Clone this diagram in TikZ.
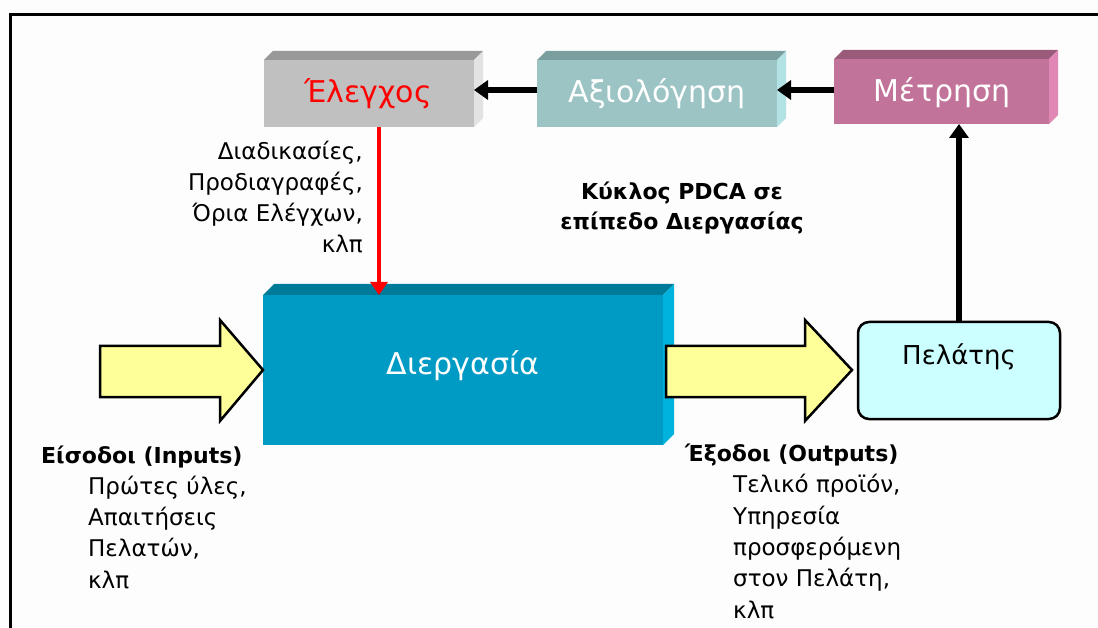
\documentclass[tikz,border=0pt]{standalone}
\usepackage{fontspec}
\setmainfont{DejaVu Sans}
\usetikzlibrary{arrows.meta}

\definecolor{elegFront}{HTML}{C0C0C0}
\definecolor{elegTop}{HTML}{999999}
\definecolor{elegSide}{HTML}{E3E3E3}
\definecolor{axioFront}{HTML}{9CC4C4}
\definecolor{axioTop}{HTML}{7B9E9E}
\definecolor{axioSide}{HTML}{B2E2E4}
\definecolor{metrFront}{HTML}{C27399}
\definecolor{metrTop}{HTML}{9A5B7B}
\definecolor{metrSide}{HTML}{E087B6}
\definecolor{dierFront}{HTML}{009BC4}
\definecolor{dierTop}{HTML}{007A99}
\definecolor{dierSide}{HTML}{00B2DE}
\definecolor{flowYellow}{HTML}{FFFF99}
\definecolor{custCyan}{HTML}{CCFFFF}
\definecolor{paper}{HTML}{FDFDFD}

% top and right faces of an extruded box
\newcommand\extrude[4]{%
  \fill[#3] (#1.north west) -- ([shift={(#2,-#2)}]#1.north west)
    -- ([shift={(#2,-#2)}]#1.north east) -- (#1.north east) -- cycle;
  \fill[#4] (#1.north east) -- ([shift={(#2,-#2)}]#1.north east)
    -- ([shift={(#2,-#2)}]#1.south east) -- (#1.south east) -- cycle;
}

\begin{document}
\begin{tikzpicture}[x=1pt,y=-1pt,
  face/.style={rectangle,inner sep=0pt,outer sep=0pt,draw=none},
  boxlabel/.style={anchor=base,inner sep=0pt,font=\fontsize{30}{36}\selectfont,text=white},
  bodytext/.style={inner sep=0pt,font=\fontsize{23}{31.3}\selectfont},
  headtext/.style={inner sep=0pt,font=\fontsize{22}{30}\selectfont\bfseries},
  blackflow/.style={line width=6pt,-{Triangle[width=19pt,length=14pt]}},
  redflow/.style={line width=4pt,red,-{Triangle[width=17pt,length=13pt]}},
  yarrow/.style={draw=black,line width=2.5pt,fill=flowYellow,line join=miter},
]
\useasboundingbox (0,0) rectangle (1098,628);
\fill[paper] (0,0) rectangle (1098,628);

% frame
\draw[line width=2.7pt] (1098,14.5) -- (10.7,14.5) -- (10.7,628);

% top row of extruded boxes
\node[face,fill=elegFront,minimum width=210pt,minimum height=67pt] (eleg) at (369,93.5) {};
\extrude{eleg}{9}{elegTop}{elegSide}
\node[face,fill=axioFront,minimum width=240pt,minimum height=67pt] (axio) at (657,93.5) {};
\extrude{axio}{9}{axioTop}{axioSide}
\node[face,fill=metrFront,minimum width=215pt,minimum height=65pt] (metr) at (941.5,91.5) {};
\extrude{metr}{9}{metrTop}{metrSide}

\node[boxlabel,text=red] (elegT) at (368,103) {Έλεγχος};
\node[boxlabel] (axioT) at (657,103) {Αξιολόγηση};
\node[boxlabel] (metrT) at (942,102) {Μέτρηση};

% process box
\node[face,fill=dierFront,minimum width=400pt,minimum height=150pt] (dier) at (463,370) {};
\extrude{dier}{11}{dierTop}{dierSide}
\node[boxlabel] (dierT) at (463,374) {Διεργασία};

% customer box
\node[draw=black,line width=2.5pt,fill=custCyan,rounded corners=11pt,
      minimum width=202pt,minimum height=97pt,inner sep=0pt] (pel) at (959,370.5) {};
\node[boxlabel,text=black,font=\fontsize{26}{30}\selectfont] (pelT) at (959,365) {Πελάτης};

% input and output flows
\draw[yarrow] (100,346) -- (220,346) -- (220,320) -- (dier.west) -- (220,421) -- (220,397) -- (100,397) -- cycle;
\draw[yarrow] (666,346) -- (805,346) -- (805,320) -- (852,370) -- (805,421) -- (805,397) -- (666,397) -- cycle;

% PDCA loop connectors
\coordinate (toprow) at (0,90);
\coordinate (redx) at (379,0);
\draw[blackflow] (metr.west |- toprow) -- (axio.east |- toprow);
\draw[blackflow] (axio.west |- toprow) -- (eleg.east |- toprow);
\draw[blackflow] (pel.north) -- (metr.south -| pel.north);
\draw[redflow] (eleg.south -| redx) -- (dier.north -| redx);

% texts (multi-line nodes are placed by the baseline of their last line)
\node[bodytext,anchor=base east,align=right] (ctrl) at (363,253)
  {Διαδικασίες,\\Προδιαγραφές,\\Όρια Ελέγχων,\\κλπ};
\node[headtext,anchor=base,align=center] (pdca) at (682,230)
  {Κύκλος PDCA σε\\επίπεδο Διεργασίας};
\node[headtext,anchor=base west] (inH) at (41,463) {Είσοδοι (Inputs)};
\node[bodytext,anchor=base west,align=left] (inB) at (88,588)
  {Πρώτες ύλες,\\Απαιτήσεις\\Πελατών,\\κλπ};
\node[headtext,anchor=base west] (outH) at (685,461) {Έξοδοι (Outputs)};
\node[bodytext,anchor=base west,align=left] (outB) at (733,618)
  {Τελικό προϊόν,\\Υπηρεσία\\προσφερόμενη\\στον Πελάτη,\\κλπ};
\end{tikzpicture}
\end{document}
